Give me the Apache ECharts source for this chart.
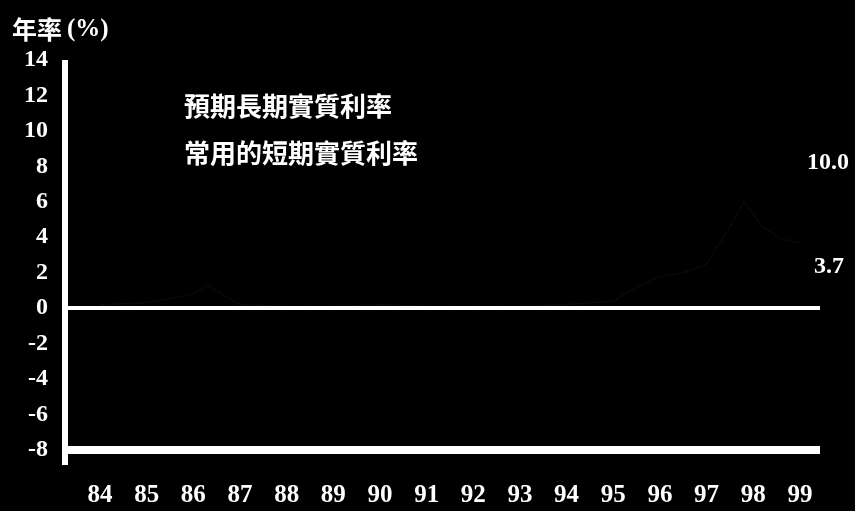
<!DOCTYPE html>
<html><head><meta charset="utf-8">
<script src="https://cdn.jsdelivr.net/npm/echarts@6/dist/echarts.min.js"></script>
<style>html,body{margin:0;padding:0;background:#000;}#c{width:855px;height:511px;}</style>
</head><body><div id="c"></div>
<script>
const yearTicks = [84,85,86,87,88,89,90,91,92,93,94,95,96,97,98,99];
const yTicks = [14,12,10,8,6,4,2,0,-2,-4,-6,-8];
const seriesNames = ['預期長期實質利率','常用的短期實質利率'];
// time (year fraction) and values; the lines are nearly black on black in the reference
const longX = [84,85,86,87,88,89,90,91,92,93,94,95,96,97,98,99];
const longY = [7.5,8.0,8.5,8.0,8.5,9.0,9.0,8.5,8.0,8.5,9.0,9.5,9.0,9.5,9.8,10.0];
const shortX = [84,85,86,86.3,87,88,89,90,91,92,93,94,95,95.5,96,96.5,97,97.5,97.8,98.2,98.6,99];
const shortY = [0.2,0.3,0.8,1.3,0.2,0.1,0.1,0.2,0.1,0.1,0.1,0.2,0.4,1.2,1.8,2.0,2.5,4.6,6.0,4.6,3.9,3.7];
const endLabels = ['10.0','3.7'];

const chart = echarts.init(document.getElementById('c'));
const serif = 'Liberation Serif';
chart.setOption({
  backgroundColor:'#000',
  animation:false,
  grid:{left:65,right:35,top:60,bottom:61},
  title:{text:'{a|年率} {b|(%)}',left:7,top:12,textStyle:{rich:{
    a:{color:'#fff',fontSize:25,fontWeight:'bold',fontFamily:'Noto Sans CJK TC'},
    b:{color:'#fff',fontSize:25,fontWeight:'bold',fontFamily:serif}}}},
  legend:{
    data:seriesNames,orient:'vertical',left:174,top:88,itemGap:21,
    icon:'rect',itemWidth:0,itemHeight:0,
    textStyle:{color:'#fff',fontSize:26,fontWeight:'bold',fontFamily:'Noto Sans CJK TC'}
  },
  xAxis:{
    type:'value',min:83.25,max:99.43,
    axisLine:{show:true,onZero:false,lineStyle:{color:'#fff',width:8,cap:'butt'}},
    axisTick:{show:false},splitLine:{show:false},
    axisLabel:{customValues:yearTicks,color:'#fff',fontSize:25,fontWeight:'bold',fontFamily:serif,margin:33,formatter:v=>String(Math.round(v))}
  },
  yAxis:{
    type:'value',min:-8,max:14,interval:2,
    axisLine:{show:true,lineStyle:{color:'#fff',width:6,cap:'butt'}},
    axisTick:{show:false},splitLine:{show:false},
    axisLabel:{color:'#fff',fontSize:24,fontWeight:'bold',fontFamily:serif,margin:17}
  },
  series:[
    {name:seriesNames[0],type:'line',symbol:'none',data:longX.map((x,i)=>[x,longY[i]]),
     lineStyle:{color:'#000',width:2},itemStyle:{color:'#000'}},
    {name:seriesNames[1],type:'line',symbol:'none',data:shortX.map((x,i)=>[x,shortY[i]]),
     lineStyle:{color:'#111',width:1.5,type:'dotted'},itemStyle:{color:'#111'},
     markLine:{silent:true,symbol:'none',label:{show:false},
       lineStyle:{color:'#fff',width:4,type:'solid',cap:'butt'},data:[{yAxis:0}]}}
  ],
  graphic:[
    {type:'rect',left:62,top:448,shape:{width:6,height:17},style:{fill:'#fff'}},
    {type:'text',right:6,top:151,style:{text:endLabels[0],fill:'#fff',font:'bold 24px "Liberation Serif"'}},
    {type:'text',right:11,top:255,style:{text:endLabels[1],fill:'#fff',font:'bold 24px "Liberation Serif"'}}
  ]
});
</script></body></html>
